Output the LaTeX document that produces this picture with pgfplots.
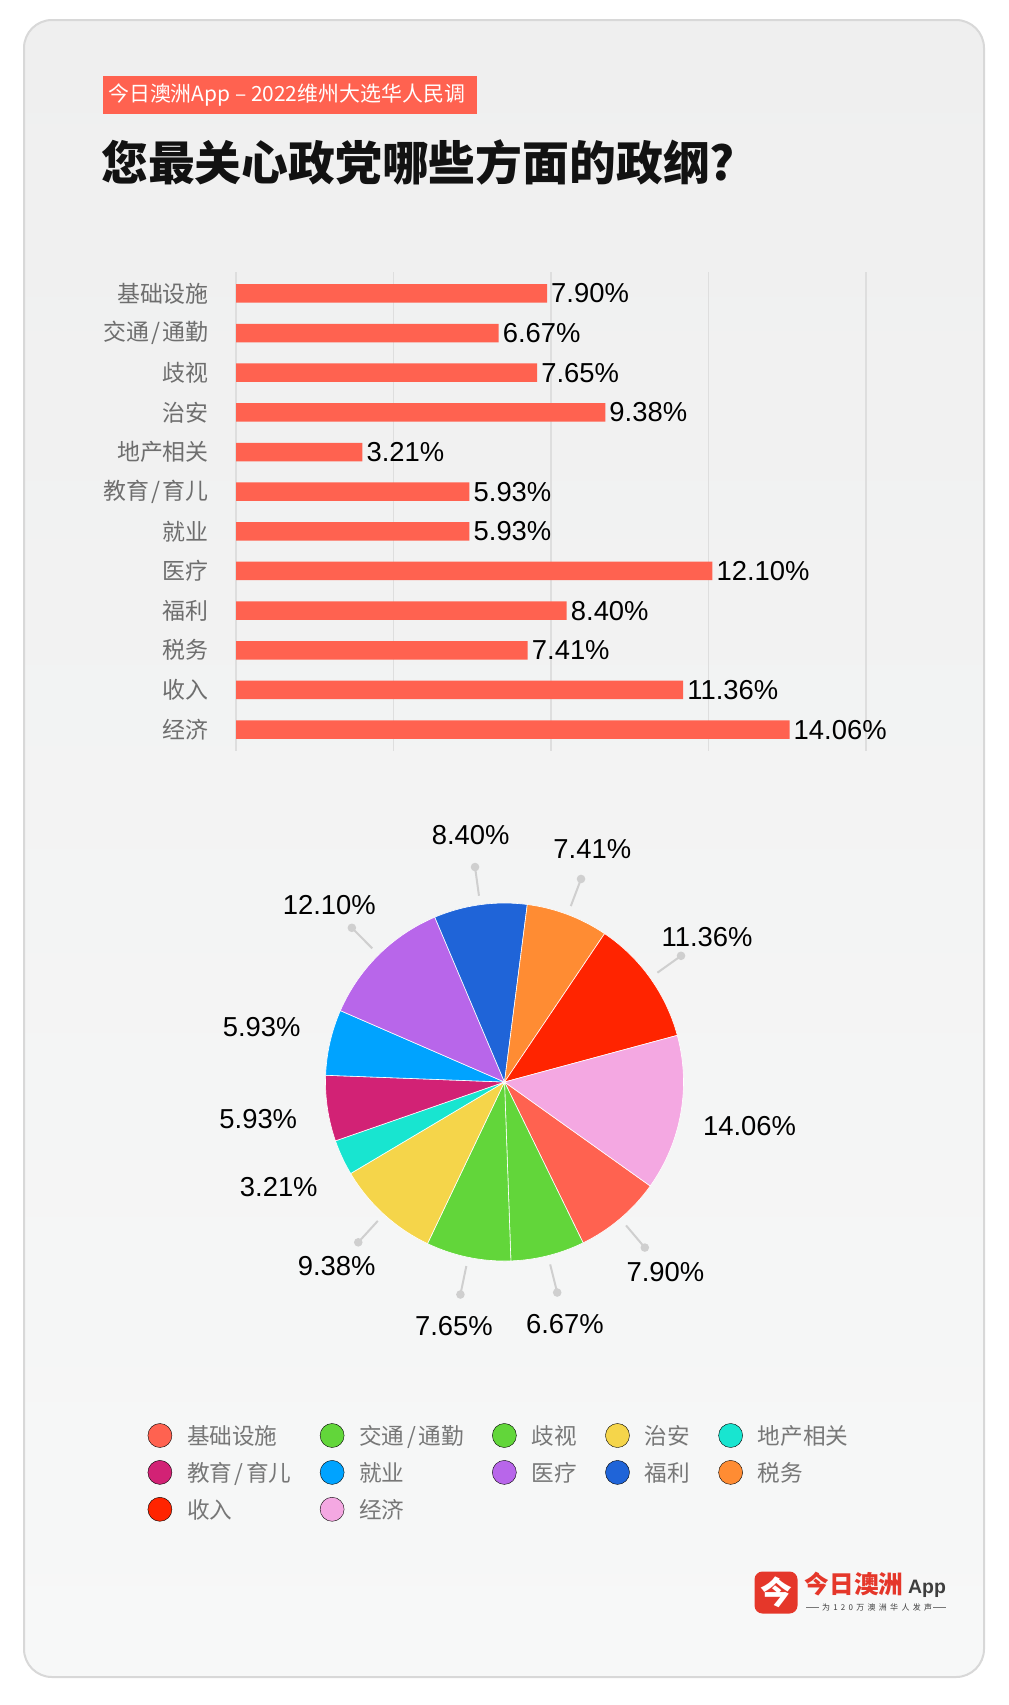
\documentclass[border=0pt]{standalone}
\usepackage{fontspec}
\setmainfont{Liberation Sans}
\newfontfamily\cjk{Noto Sans CJK SC}
\usepackage{pgfplots}
\usepackage{pgfplotstable}
\pgfplotsset{compat=1.18}
\pgfplotsset{/pgf/number format/assume math mode=true}

\definecolor{barred}{HTML}{FF6250}
\definecolor{gridgray}{HTML}{DEDEDE}
\definecolor{labelgray}{HTML}{6E6E6E}
\definecolor{legendgray}{HTML}{777777}
\definecolor{leader}{HTML}{CFCFCF}
\definecolor{cardtop}{HTML}{EFEFEF}
\definecolor{cardbot}{HTML}{F7F8F8}
\definecolor{cardline}{HTML}{D8D8D8}
\definecolor{logored}{HTML}{E5372A}
\definecolor{logogray}{HTML}{3E3E3E}
% slice colours, same order as the table
\definecolor{pie0}{HTML}{FF6250}
\definecolor{pie1}{HTML}{62D63A}
\definecolor{pie2}{HTML}{62D63A}
\definecolor{pie3}{HTML}{F5D54A}
\definecolor{pie4}{HTML}{18E5D0}
\definecolor{pie5}{HTML}{D22275}
\definecolor{pie6}{HTML}{00A3FF}
\definecolor{pie7}{HTML}{B866EA}
\definecolor{pie8}{HTML}{1F64D8}
\definecolor{pie9}{HTML}{FF8C33}
\definecolor{pie10}{HTML}{FF2400}
\definecolor{pie11}{HTML}{F4A8E2}

\newcommand\slsh{\kern2.5bp/\kern2.5bp}

% line = 1 if the pie label has a leader line
\pgfplotstableread{
idx label value line
0 基础设施 7.90 1
1 交通{\slsh}通勤 6.67 1
2 歧视 7.65 1
3 治安 9.38 1
4 地产相关 3.21 0
5 教育{\slsh}育儿 5.93 0
6 就业 5.93 0
7 医疗 12.10 1
8 福利 8.40 1
9 税务 7.41 1
10 收入 11.36 1
11 经济 14.06 0
}\data

\begin{document}
\begin{tikzpicture}[x=1bp,y=1bp]
\fill[white] (0,0) rectangle (1008,-1705);
\path[use as bounding box] (0,0) rectangle (1008,-1705);
\shade[top color=cardtop, bottom color=cardbot, rounded corners=28bp] (24,-20) rectangle (984,-1677);
\draw[cardline, line width=2bp, rounded corners=28bp] (24,-20) rectangle (984,-1677);

% header
\fill[barred] (103,-76) rectangle (477,-114);
\node[anchor=west, inner sep=0pt, text=white, font=\cjk\fontsize{21}{24}\selectfont] at (108,-95.5) {今日澳洲App – 2022维州大选华人民调};
\node[anchor=west, inner sep=0pt, text=black!93, font=\cjk\bfseries\fontsize{47}{52}\selectfont] at (101,-162.5) {您最关心政党哪些方面的政纲?};

% bar chart
\begin{axis}[
  at={(550.95bp,-511.5bp)}, anchor=center,
  scale only axis, width=629.9bp, height=479bp,
  xbar, bar width=18.5bp,
  xmin=0, xmax=16, ymin=-0.54, ymax=11.54, y dir=reverse,
  xtick={0,4,8,12,16}, xticklabels={},
  xmajorgrids, major grid style={gridgray, line width=1.6bp},
  ytick={0,...,11}, yticklabels from table={\data}{label},
  yticklabel style={font=\cjk\fontsize{23}{26}\selectfont, text=labelgray, inner sep=0pt, xshift=-27bp},
  axis line style={draw=none}, major tick style={draw=none}, major tick length=0pt,
  point meta=x,
  nodes near coords={\pgfmathprintnumber[fixed,fixed zerofill,precision=2]{\pgfplotspointmeta}\%},
  every node near coord/.append style={anchor=west, inner sep=0pt, xshift=4bp, font=\fontsize{27.5}{30}\selectfont, text=black},
  clip=false,
]
\addplot[fill=barred, draw=none] table[x=value, y=idx] {\data};
\end{axis}

% pie chart
\begin{axis}[
  at={(504.5bp,-1082bp)}, anchor=center,
  x=1bp, y=1bp, xmin=-300, xmax=300, ymin=-300, ymax=300,
  hide axis, clip=false,
  legend columns=5, legend cell align=left,
  legend image code/.code={\fill[#1] (12bp,3.2bp) circle[radius=12bp];},
  legend style={draw=none, fill=none, inner sep=0pt, outer sep=0pt,
    at={(-0.09467,-0.0688)}, anchor=north west,
    font=\cjk\fontsize{22.7}{26}\selectfont, text=legendgray,
    nodes={inner sep=0pt, text height=17bp, text depth=5bp},
    row sep=10.5bp,
    /tikz/every odd column/.append style={column sep=15bp},
    /tikz/every even column/.append style={column sep=28.5bp}},
]
\pgfplotsextra{%
  \xdef\angA{-35.5}%
  \foreach \i in {0,...,11}{%
    \pgfplotstablegetelem{\i}{value}\of\data
    \let\val\pgfplotsretval
    \pgfplotstablegetelem{\i}{line}\of\data
    \let\haslink\pgfplotsretval
    \pgfmathsetmacro\angB{\angA-3.6*\val}%
    \pgfmathsetmacro\angM{(\angA+\angB)/2}%
    \fill[fill=pie\i, draw=white, line width=0.6bp] (axis cs:0,0) -- ++(\angA:179bp) arc[start angle=\angA, end angle=\angB, radius=179bp] -- cycle;
    \ifnum\haslink=1
      \draw[leader, line width=2bp] (axis cs:0,0) ++(\angM:188bp) -- ++(\angM:29bp);
      \fill[leader] (axis cs:0,0) ++(\angM:217bp) circle[radius=4.3bp];
    \fi
    \path (axis cs:0,0) ++(\angM:249bp) node[font=\fontsize{27.5}{30}\selectfont, text=black, inner sep=0pt] {\pgfmathprintnumber[fixed,fixed zerofill,precision=2]{\val}\%};
    \xdef\angA{\angB}%
  }%
}
\addlegendimage{fill=pie0}\addlegendentry{基础设施}
\addlegendimage{fill=pie1}\addlegendentry{交通{\slsh}通勤}
\addlegendimage{fill=pie2}\addlegendentry{歧视}
\addlegendimage{fill=pie3}\addlegendentry{治安}
\addlegendimage{fill=pie4}\addlegendentry{地产相关}
\addlegendimage{fill=pie5}\addlegendentry{教育{\slsh}育儿}
\addlegendimage{fill=pie6}\addlegendentry{就业}
\addlegendimage{fill=pie7}\addlegendentry{医疗}
\addlegendimage{fill=pie8}\addlegendentry{福利}
\addlegendimage{fill=pie9}\addlegendentry{税务}
\addlegendimage{fill=pie10}\addlegendentry{收入}
\addlegendimage{fill=pie11}\addlegendentry{经济}
\end{axis}

% logo
\fill[logored, rounded corners=8bp] (754.5,-1571.5) rectangle (797.5,-1613.5);
\node[text=white, font=\cjk\bfseries\fontsize{32}{34}\selectfont, inner sep=0pt] at (776,-1592.5) {今};
\node[anchor=base west, inner sep=0pt, text=logored, font=\cjk\bfseries\fontsize{24.75}{26}\selectfont] at (804.5,-1593) {今日澳洲};
\node[anchor=base west, inner sep=0pt, text=logogray, font=\bfseries\fontsize{19.5}{22}\selectfont] at (908,-1593) {App};
\draw[logogray!70, line width=0.8bp] (806,-1607.5) -- (819,-1607.5) (933,-1607.5) -- (946,-1607.5);
\node[inner sep=0pt, text=logogray, font=\cjk\fontsize{8}{9}\selectfont] at (877,-1607.5) {\makebox[110bp][s]{为\hfil 1\hfil 2\hfil 0\hfil 万\hfil 澳\hfil 洲\hfil 华\hfil 人\hfil 发\hfil 声}};
\end{tikzpicture}
\end{document}
